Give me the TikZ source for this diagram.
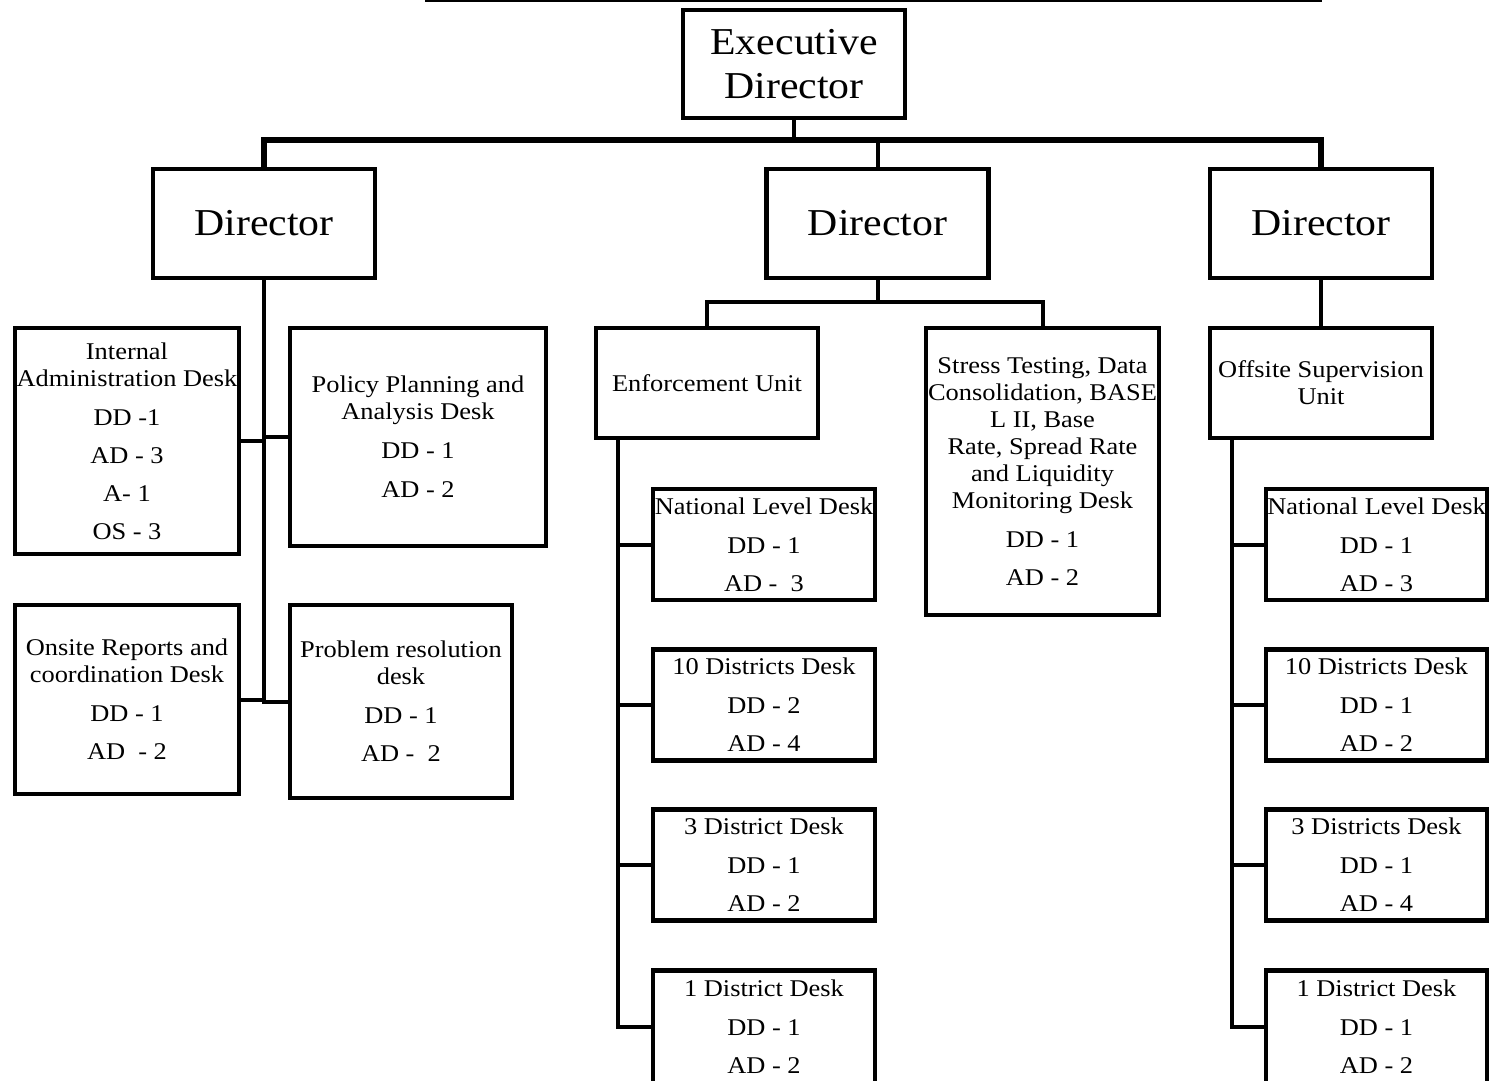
\documentclass[tikz,border=0pt]{standalone}
\usepackage{fontspec}
\setmainfont{Liberation Serif}[FakeStretch=1.1]
\begin{document}
\begin{tikzpicture}[x=1pt,y=-1pt,
  line join=miter,
  box/.style={draw, line width=4.5pt, rectangle, inner sep=0pt, align=center},
  big/.style={box, font=\fontsize{38}{44}\selectfont, minimum width=222pt, minimum height=109pt},
  small/.style={box, font=\fontsize{24}{27}\selectfont},
  desk/.style={small, minimum width=222pt, minimum height=111pt},
  conn/.style={line width=4pt, line cap=rect},
  bar/.style={line width=6pt}]
\useasboundingbox (0,0) rectangle (1491,1081);

% top rule
\coordinate (tl) at (425,1);
\coordinate (tr) at (1322,1);
\draw[line width=2pt] (tl) -- (tr);

% executive and directors
\node[big, minimum height=108pt] (exec) at (794,64) {Executive\\Director};
\node[big] (dirL) at (264,223.5) {Director};
\node[big] (dirM) at (877.5,223.5) {Director};
\node[big] (dirR) at (1321,223.5) {Director};

\coordinate (b) at (794,140);
\draw[conn] (exec.south) -- (b);
\draw[bar] (dirL.north) |- (b) -| (dirR.north);
\draw[conn] (dirM.north) -- (dirM.north |- b);

% left branch
\node[small, minimum width=224pt, minimum height=226pt] (ia) at (127,441)
  {Internal\\Administration Desk\\[12pt]DD -1\\[11pt]AD - 3\\[11pt]A- 1\\[11pt]OS - 3};
\node[small, minimum width=256pt, minimum height=218pt] (pp) at (418,437)
  {Policy Planning and\\Analysis Desk\\[12pt]DD - 1\\[12pt]AD - 2};
\node[small, minimum width=224pt, minimum height=189pt] (os) at (127,699.5)
  {Onsite Reports and\\coordination Desk\\[12pt]DD - 1\\[11pt]AD~ - 2};
\node[small, minimum width=222pt, minimum height=193pt] (pr) at (401,701.5)
  {Problem resolution\\desk\\[12pt]DD - 1\\[11pt]AD -~ 2};

\coordinate (lv) at (264,697);
\draw[conn] (dirL.south) -- (lv);
\draw[conn] (ia.east) -- (ia.east -| lv);
\draw[conn] (pp.west) -- (pp.west -| lv);
\draw[conn] (os.east) -- (os.east -| lv);
\draw[conn] (pr.west) -- (pr.west -| lv);

% middle branch
\node[small, minimum width=222pt, minimum height=110pt] (en) at (707,383) {Enforcement Unit};
\node[small, minimum width=233pt, minimum height=287pt] (st) at (1042.5,471.5)
  {Stress Testing, Data\\Consolidation, BASE\\L II, Base\\Rate, Spread Rate\\and Liquidity\\Monitoring Desk\\[12pt]DD - 1\\[11pt]AD - 2};
\coordinate (m) at (877.5,302);
\draw[conn] (dirM.south) -- (m);
\draw[conn] (en.north) |- (m) -| (st.north);

\node[desk] (e1) at (764,544.5) {National Level Desk\\[12pt]DD - 1\\[11pt]AD -~ 3};
\node[desk] (e2) at (764,705) {10 Districts Desk\\[12pt]DD - 2\\[11pt]AD - 4};
\node[desk] (e3) at (764,865) {3 District Desk\\[12pt]DD - 1\\[11pt]AD - 2};
\node[desk, minimum height=113pt] (e4) at (764,1027) {1 District Desk\\[12pt]DD - 1\\[11pt]AD - 2};
\coordinate (et) at (618,438);
\draw[conn] (et) |- (e4.west);
\foreach \n in {e1,e2,e3} \draw[conn] (\n.west) -- (\n.west -| et);

% right branch
\node[small, minimum width=222pt, minimum height=110pt] (off) at (1321,383) {Offsite Supervision\\Unit};
\draw[conn] (dirR.south) -- (off.north);
\node[desk, minimum width=221pt] (r1) at (1376.5,544.5) {National Level Desk\\[12pt]DD - 1\\[11pt]AD - 3};
\node[desk, minimum width=221pt] (r2) at (1376.5,705) {10 Districts Desk\\[12pt]DD - 1\\[11pt]AD - 2};
\node[desk, minimum width=221pt] (r3) at (1376.5,865) {3 Districts Desk\\[12pt]DD - 1\\[11pt]AD - 4};
\node[desk, minimum width=221pt, minimum height=113pt] (r4) at (1376.5,1027) {1 District Desk\\[12pt]DD - 1\\[11pt]AD - 2};
\coordinate (rt) at (1232,438);
\draw[conn] (rt) |- (r4.west);
\foreach \n in {r1,r2,r3} \draw[conn] (\n.west) -- (\n.west -| rt);
\end{tikzpicture}
\end{document}
